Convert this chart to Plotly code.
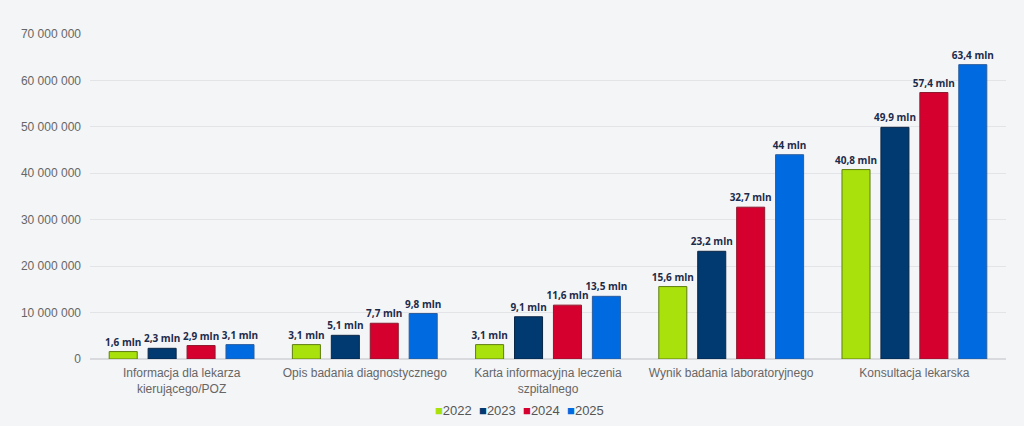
import plotly.graph_objects as go

categories = ["Informacja dla lekarza<br>kierującego/POZ", "Opis badania diagnostycznego",
              "Karta informacyjna leczenia<br>szpitalnego", "Wynik badania laboratoryjnego",
              "Konsultacja lekarska"]
years = ["2022", "2023", "2024", "2025"]
values_mln = {
    "2022": [1.6, 3.1, 3.1, 15.6, 40.8],
    "2023": [2.3, 5.1, 9.1, 23.2, 49.9],
    "2024": [2.9, 7.7, 11.6, 32.7, 57.4],
    "2025": [3.1, 9.8, 13.5, 44, 63.4],
}
colors = {"2022": "#a8e10c", "2023": "#003a70", "2024": "#d6002f", "2025": "#006be0"}
outlines = {"2022": "#5f7d12", "2023": "#0a2546", "2024": "#8c1a2e", "2025": "#2c5d9c"}

def fmt(v):
    s = ("%.1f" % v).replace(".", ",")
    if s.endswith(",0"):
        s = s[:-2]
    return s + " mln"

fig = go.Figure()
for y in years:
    fig.add_trace(go.Bar(
        name=y, x=categories, y=[v * 1e6 for v in values_mln[y]],
        marker=dict(color=colors[y], line=dict(color=outlines[y], width=1)),
        text=[fmt(v) for v in values_mln[y]], textposition="outside",
        constraintext="none", textangle=0,
        textfont=dict(family="Open Sans", size=10, color="#1c2b4a", weight="bold"),
        cliponaxis=False,
        hoverinfo="skip",
    ))

legend_text = "  ".join(
    "<span style='color:%s'>■</span>%s" % (colors[y], y) for y in years
)
fig.add_annotation(text=legend_text, xref="paper", yref="paper", x=0.469, y=-0.13,
                   xanchor="center", yanchor="top", showarrow=False,
                   font=dict(family="Liberation Sans, Arial", size=13, color="#555555"))

fig.update_layout(
    width=1024, height=426,
    margin=dict(l=90, r=18, t=34, b=67),
    paper_bgcolor="#f4f5f7", plot_bgcolor="#f4f5f7",
    barmode="group", bargap=0.15, bargroupgap=0.28,
    separators=", ",
    font=dict(family="Liberation Sans, Arial", size=12, color="#666666"),
    showlegend=False,
)
fig.update_yaxes(range=[0, 70e6], dtick=10e6, tickformat=",d", gridcolor="#e3e4e7",
                 zeroline=True, zerolinecolor="#d9dadd", ticks="", ticklen=0,
                 ticklabelstandoff=8,
                 tickfont=dict(size=12, color="#666666"))
fig.update_xaxes(tickfont=dict(size=12, color="#666666"), showline=True, linecolor="#d9dadd",
                 ticklabelstandoff=3)

fig.write_html("out.html", config={"displayModeBar": False},
               post_script="document.body.style.margin='0';document.body.style.background='#f4f5f7';")
